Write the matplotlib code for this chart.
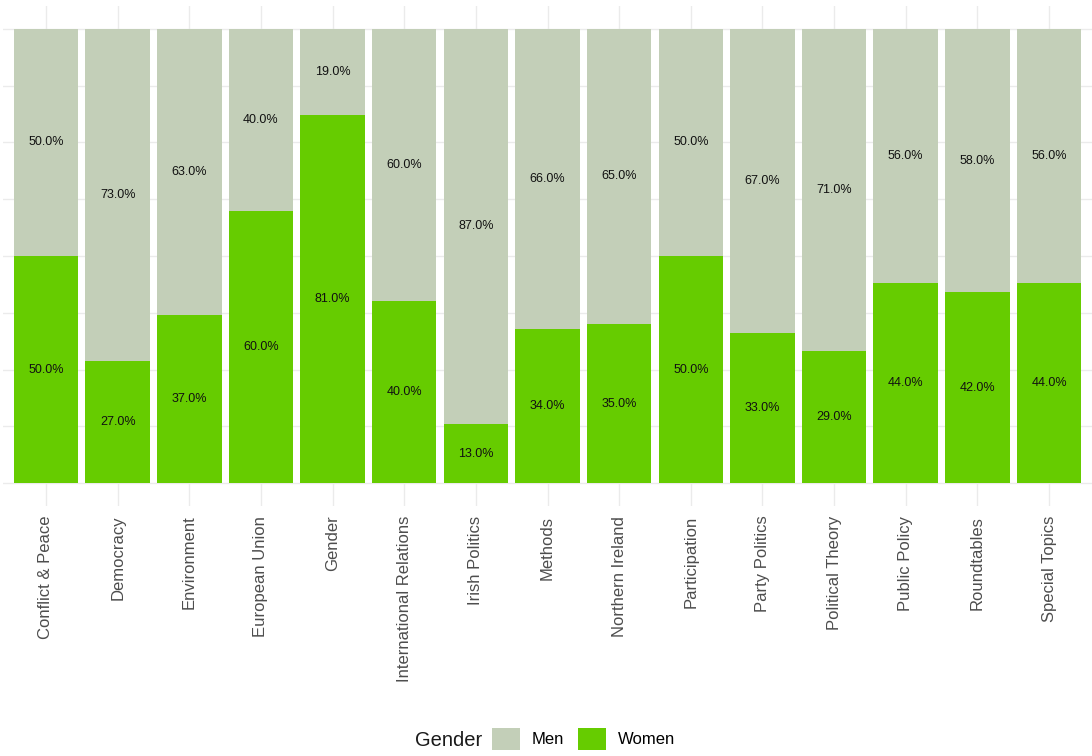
import matplotlib.pyplot as plt
import numpy as np
from matplotlib.patches import Patch

plt.rcParams['font.family'] = ['Liberation Sans', 'DejaVu Sans']

sections = ['Conflict & Peace', 'Democracy', 'Environment', 'European Union', 'Gender',
            'International Relations', 'Irish Politics', 'Methods', 'Northern Ireland',
            'Participation', 'Party Politics', 'Political Theory', 'Public Policy',
            'Roundtables', 'Special Topics']
women = [50, 27, 37, 60, 81, 40, 13, 34, 35, 50, 33, 29, 44, 42, 44]
men = [50, 73, 63, 40, 19, 60, 87, 66, 65, 50, 67, 71, 56, 58, 56]

col_men = '#C3CFB8'
col_women = '#66CC00'

W, H = 1092, 756
fig = plt.figure(figsize=(W / 100, H / 100), dpi=100)
ax = fig.add_axes([3 / W, 1 - 506 / H, 1089 / W, 500 / H])

x = np.arange(len(sections))
w = np.array(women) / 100
m = np.array(men) / 100

ax.bar(x, w, width=0.9, color=col_women, zorder=2)
ax.bar(x, m, width=0.9, bottom=w, color=col_men, zorder=2)

for i in range(len(x)):
    ax.text(x[i], w[i] / 2, f'{women[i]:.1f}%', ha='center', va='center', fontsize=9, color='#111111', zorder=3)
    ax.text(x[i], w[i] + m[i] / 2, f'{men[i]:.1f}%', ha='center', va='center', fontsize=9, color='#111111', zorder=3)

ax.set_xlim(-0.6, len(sections) - 0.4)
ax.set_ylim(-0.05, 1.05)
ax.set_yticks([0, 0.25, 0.5, 0.75, 1.0])
ax.set_yticks([0.125, 0.375, 0.625, 0.875], minor=True)
ax.set_yticklabels([])
ax.set_xticks(x)
ax.set_xticklabels(sections, rotation=90, fontsize=12, color='#4D4D4D')
ax.tick_params(axis='both', which='both', length=0, pad=7)
ax.grid(True, which='both', color='#EBEBEB', lw=1.0, zorder=0)
for s in ax.spines.values():
    s.set_visible(False)

# legend
fig.text(415 / W, 1 - 740 / H, 'Gender', fontsize=14.5, color='#1a1a1a', va='center', ha='left')
handles = [Patch(facecolor=col_men, edgecolor='none', label='Men'),
           Patch(facecolor=col_women, edgecolor='none', label='Women')]
fig.legend(handles=handles, loc='center left', bbox_to_anchor=(492 / W, 1 - 739 / H), ncol=2,
           frameon=False, fontsize=12, handlelength=1.7, handleheight=1.7,
           handletextpad=0.7, columnspacing=0.8, borderpad=0, borderaxespad=0)

fig.savefig('out.png', dpi=100)
